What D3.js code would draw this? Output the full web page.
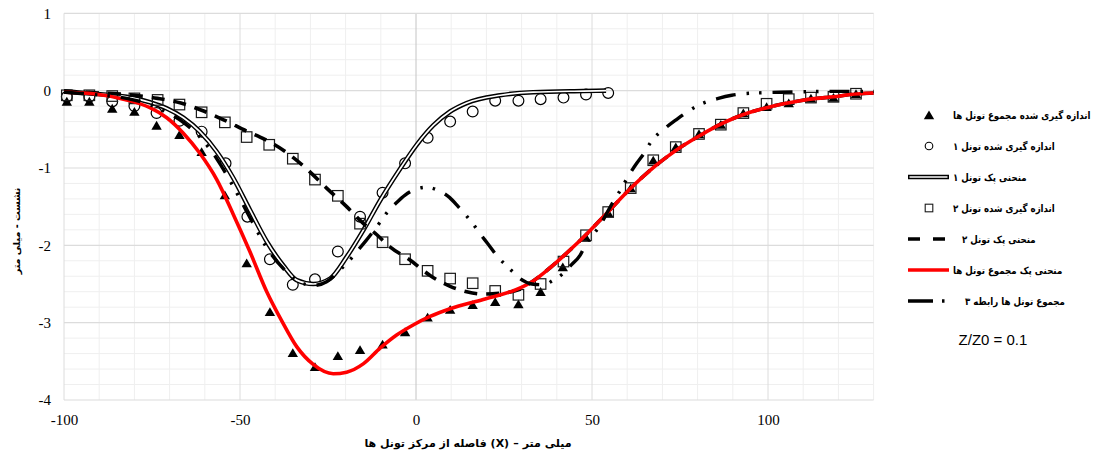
<!DOCTYPE html>
<html>
<head>
<meta charset="utf-8">
<script src="https://cdn.jsdelivr.net/npm/d3@7"></script>
<style>
  html, body { margin: 0; padding: 0; background: #ffffff; }
  svg { display: block; }
</style>
</head>
<body>
<svg id="chart" width="1094" height="460"></svg>
<script>
// Surface settlement above twin tunnels: x = distance from tunnels' centre (mm), y = settlement (mm)

// measured, both tunnels together (filled triangles)
const measuredTotal = [
  [-99.2,-0.14],[-92.8,-0.14],[-86.3,-0.23],[-80.0,-0.27],[-73.7,-0.45],[-67.2,-0.57],
  [-60.9,-0.79],[-54.3,-1.35],[-48.1,-2.23],[-41.5,-2.86],[-35.0,-3.39],[-28.7,-3.57],
  [-22.2,-3.43],[-15.9,-3.35],[-9.5,-3.28],[-3.1,-3.12],[3.3,-2.93],[9.7,-2.83],
  [16.1,-2.77],[22.5,-2.73],[29.1,-2.76],[35.4,-2.60],[41.7,-2.28],[48.3,-1.90],
  [54.6,-1.58],[61.0,-1.26],[67.4,-0.90],[73.8,-0.73],[80.4,-0.56],[86.6,-0.44],
  [93.0,-0.29],[99.6,-0.21],[105.9,-0.16],[112.2,-0.10],[118.6,-0.09],[125.0,-0.04]
];

// measured, tunnel 1 (open circles)
const measuredTunnel1 = [
  [-99.2,-0.08],[-92.8,-0.08],[-86.3,-0.14],[-80.0,-0.20],[-73.7,-0.29],[-67.2,-0.39],
  [-60.9,-0.53],[-54.1,-0.94],[-47.9,-1.63],[-41.5,-2.18],[-35.0,-2.51],[-28.7,-2.44],
  [-22.2,-2.08],[-15.9,-1.63],[-9.5,-1.32],[-3.1,-0.94],[3.3,-0.61],[9.7,-0.40],
  [16.1,-0.27],[22.5,-0.13],[29.1,-0.13],[35.4,-0.11],[41.9,-0.09],[48.3,-0.05],[54.6,-0.03]
];

// Peck curve, tunnel 1 (double line)
const peckTunnel1 = [
  [-100,-0.01],[-91.7,-0.04],[-82.2,-0.08],[-75.6,-0.15],[-70.8,-0.23],[-66.1,-0.35],
  [-61.4,-0.53],[-56.6,-0.79],[-51.9,-1.13],[-47.2,-1.54],[-42.4,-1.95],[-37.7,-2.26],
  [-33.9,-2.45],[-29.2,-2.50],[-24.4,-2.43],[-19.7,-2.15],[-14.9,-1.80],[-10.2,-1.42],
  [-4.5,-1.01],[0.2,-0.70],[4.9,-0.45],[9.7,-0.27],[14.4,-0.16],[23.9,-0.06],
  [33.3,-0.02],[47.5,-0.005],[54.0,0.0]
];

// measured, tunnel 2 (open squares)
const measuredTunnel2 = [
  [-99.2,-0.06],[-92.8,-0.06],[-86.3,-0.07],[-80.0,-0.10],[-73.4,-0.12],[-67.2,-0.18],
  [-60.9,-0.28],[-54.3,-0.41],[-48.1,-0.60],[-41.7,-0.70],[-35.0,-0.88],[-28.7,-1.15],
  [-22.2,-1.36],[-15.9,-1.72],[-9.5,-1.96],[-3.1,-2.18],[3.3,-2.33],[9.7,-2.43],
  [16.1,-2.49],[22.5,-2.59],[29.1,-2.64],[35.4,-2.50],[41.9,-2.21],[48.3,-1.87],
  [54.6,-1.57],[61.0,-1.26],[67.4,-0.90],[73.8,-0.73],[80.4,-0.56],[86.6,-0.44],
  [93.0,-0.29],[99.6,-0.17],[105.9,-0.11],[112.2,-0.09],[118.6,-0.08],[125.0,-0.04]
];

// Peck curve, tunnel 2 (dashed)
const peckTunnel2 = [
  [-100,-0.01],[-90,-0.03],[-80,-0.06],[-73.4,-0.10],[-66.8,-0.16],[-61.1,-0.25],
  [-54.5,-0.38],[-47.8,-0.53],[-44.3,-0.60],[-37.7,-0.77],[-31.1,-1.01],[-25.4,-1.26],
  [-19.7,-1.50],[-14.9,-1.72],[-11.2,-1.86],[-7.4,-2.02],[-1.7,-2.19],[4.0,-2.39],
  [9.7,-2.53],[14.4,-2.60],[19.1,-2.63],[24.0,-2.62],[29.5,-2.57],[33.3,-2.46],
  [38.1,-2.29],[42.8,-2.10],[47.5,-1.90],[52.2,-1.68],[57.0,-1.45],[61.7,-1.23],
  [66.5,-1.03],[71.2,-0.86],[75.9,-0.71],[80.7,-0.58],[85.4,-0.46],[90.1,-0.36],
  [94.9,-0.28],[99.6,-0.22],[104.4,-0.17],[109.1,-0.13],[113.8,-0.10],[118.6,-0.08],
  [123.3,-0.05],[130,-0.03]
];

// Peck curve, both tunnels together (red)
const peckTotal = [
  [-100,-0.02],[-91.7,-0.04],[-82.2,-0.12],[-75.6,-0.22],[-70.8,-0.35],[-66.1,-0.55],
  [-61.4,-0.81],[-56.6,-1.15],[-51.9,-1.60],[-47.2,-2.08],[-42.4,-2.60],[-38.1,-2.98],
  [-33.9,-3.31],[-29.2,-3.54],[-23.5,-3.66],[-19.7,-3.64],[-14.9,-3.53],[-10.2,-3.33],
  [-5.5,-3.16],[-0.8,-3.03],[4.0,-2.92],[9.7,-2.82],[19.1,-2.70],[28.6,-2.57],
  [33.3,-2.46],[38.1,-2.29],[42.8,-2.10],[47.5,-1.90],[52.2,-1.68],[57.0,-1.45],
  [61.7,-1.23],[66.5,-1.03],[71.2,-0.86],[75.9,-0.71],[80.7,-0.58],[85.4,-0.46],
  [90.1,-0.36],[94.9,-0.28],[99.6,-0.22],[104.4,-0.17],[109.1,-0.13],[113.8,-0.10],
  [118.6,-0.08],[123.3,-0.05],[130,-0.03]
];

// both tunnels, relation 3 (long dash – dot – dot)
const relation3Total = [
  [-100,-0.02],[-91.7,-0.05],[-82.2,-0.10],[-75.6,-0.18],[-70.8,-0.28],[-66.1,-0.41],
  [-61.4,-0.60],[-56.6,-0.88],[-51.9,-1.24],[-47.2,-1.64],[-42.4,-2.03],[-37.7,-2.30],
  [-33.9,-2.45],[-29.2,-2.52],[-25.4,-2.47],[-21.6,-2.32],[-18.8,-2.19],[-16.4,-2.06],
  [-14.2,-1.94],[-10.2,-1.70],[-8.3,-1.58],[-5.8,-1.46],[-3.1,-1.35],[0.2,-1.27],
  [3.0,-1.25],[6.3,-1.29],[9.5,-1.38],[12.0,-1.50],[16.3,-1.73],[18.2,-1.85],
  [20.4,-1.98],[22.9,-2.13],[27.2,-2.33],[29.5,-2.43],[32.9,-2.50],[36.2,-2.51],
  [39.0,-2.45],[41.9,-2.36],[44.2,-2.25],[46.6,-2.13],[48.2,-1.99],[52.3,-1.74],
  [55.6,-1.47],[57.5,-1.33],[60.8,-1.07],[62.7,-0.94],[64.8,-0.81],[66.5,-0.68],
  [71.2,-0.47],[74.1,-0.37],[76.9,-0.28],[80.2,-0.19],[85.9,-0.10],[89.7,-0.06],
  [93.0,-0.04],[96.8,-0.03],[103.4,-0.02],[110,-0.015],[118,-0.01],[130,-0.01]
];

const xTicks = [-100, -50, 0, 50, 100];
const yTicks = [1, 0, -1, -2, -3, -4];

const seriesNames = [
  "اندازه گیری شده مجموع تونل ها",
  "اندازه گیری شده تونل ۱",
  "منحنی پک تونل ۱",
  "اندازه گیری شده تونل ۲",
  "\u00A0\u00A0\u00A0منحنی پک تونل ۲",
  "منحنی پک مجموع تونل ها",
  "\u00A0\u00A0\u00A0\u00A0مجموع تونل ها رابطه ۳"
];
// x-axis title pieces, laid out left to right
const xTitleParts = ["فاصله از مرکز تونل ها", "(X)", "–", "میلی متر"];
const yTitle = "نشست - میلی متر";
const noteText = "Z/Z0 = 0.1";

// ---------------------------------------------------------------------------
const svg = d3.select("#chart");
const plot = { left: 64, right: 873.6, top: 13.3, bottom: 400 };

const x = d3.scaleLinear().domain([-100, 130]).range([plot.left, plot.right]);
const y = d3.scaleLinear().domain([-4, 1]).range([plot.bottom, plot.top]);

const faFont = "'DejaVu Sans', 'Noto Sans', sans-serif";
const numFont = "'Liberation Serif', 'Times New Roman', serif";
const faSqueeze = 0.85;   // DejaVu's Arabic runs wide; narrow legend text a little

// gridlines
const grid = svg.append("g");
const minorX = d3.range(-90, 131, 10).filter(v => v % 50 !== 0);
const minorY = d3.range(-4, 1.001, 0.2).map(v => +v.toFixed(1)).filter(v => Math.abs(v - Math.round(v)) > 1e-6);

grid.selectAll(".mx").data(minorX).join("line")
  .attr("x1", d => x(d)).attr("x2", d => x(d))
  .attr("y1", plot.top).attr("y2", plot.bottom)
  .attr("stroke", "#efefef").attr("stroke-width", 1);
grid.selectAll(".my").data(minorY).join("line")
  .attr("x1", plot.left).attr("x2", plot.right)
  .attr("y1", d => y(d)).attr("y2", d => y(d))
  .attr("stroke", "#efefef").attr("stroke-width", 1);
grid.selectAll(".Mx").data(xTicks).join("line")
  .attr("x1", d => x(d)).attr("x2", d => x(d))
  .attr("y1", plot.top).attr("y2", plot.bottom)
  .attr("stroke", d => d === 0 ? "#c4c4c4" : "#dcdcdc").attr("stroke-width", 1);
grid.selectAll(".My").data(yTicks).join("line")
  .attr("x1", plot.left).attr("x2", plot.right)
  .attr("y1", d => y(d)).attr("y2", d => y(d))
  .attr("stroke", "#dcdcdc").attr("stroke-width", 1.2);

// axes (labels only)
const yAxis = d3.axisLeft(y).tickValues(yTicks).tickSize(0).tickPadding(13).tickFormat(d3.format("d"));
const xAxis = d3.axisBottom(x).tickValues(xTicks).tickSize(0).tickPadding(14).tickFormat(d3.format("d"));

const gy = svg.append("g").attr("transform", `translate(${plot.left},0)`).call(yAxis);
const gx = svg.append("g").attr("transform", `translate(0,${plot.bottom})`).call(xAxis);
[gx, gy].forEach(g => {
  g.select(".domain").remove();
  g.selectAll("text").attr("font-family", numFont).attr("font-size", 15).attr("fill", "#000");
});
gy.selectAll("text").text(d => d < 0 ? "-" + Math.abs(d) : d);
gx.selectAll("text").text(d => d < 0 ? "-" + Math.abs(d) : d);

// x-axis title: pieces packed left to right around the centre
const xTitleG = svg.append("g");
const xTitleCentre = 468, xTitleBase = 447, xTitleGap = 4;
const pieces = xTitleParts.map(t => xTitleG.append("text")
  .attr("y", xTitleBase)
  .attr("font-family", faFont).attr("font-weight", "bold").attr("font-size", 11)
  .attr("text-anchor", "start")
  .text(t));
const widths = pieces.map(p => p.node().getComputedTextLength());
const totalW = d3.sum(widths) + xTitleGap * (pieces.length - 1);
let cursor = xTitleCentre - totalW / 2;
pieces.forEach((p, i) => { p.attr("x", cursor); cursor += widths[i] + xTitleGap; });

// y-axis title
svg.append("text")
  .attr("transform", "translate(20,231) rotate(-90)")
  .attr("text-anchor", "middle")
  .attr("font-family", faFont).attr("font-weight", "bold").attr("font-size", 9.6)
  .text(yTitle);

// mark helpers
const line = d3.line().x(d => x(d[0])).y(d => y(d[1])).curve(d3.curveMonotoneX);
const triPath = "M0,-4.6L5.2,4.2L-5.2,4.2Z";
const sqSize = 10.5;

const marks = svg.append("g");

function drawTriangles(g, data) {
  g.selectAll(null).data(data).join("path")
    .attr("d", triPath)
    .attr("transform", d => `translate(${x(d[0])},${y(d[1])})`)
    .attr("fill", "#000");
}
function drawCircles(g, data) {
  g.selectAll(null).data(data).join("circle")
    .attr("cx", d => x(d[0])).attr("cy", d => y(d[1])).attr("r", 5.4)
    .attr("fill", "none").attr("stroke", "#000").attr("stroke-width", 1.2);
}
function drawSquares(g, data) {
  g.selectAll(null).data(data).join("rect")
    .attr("x", d => x(d[0]) - sqSize / 2).attr("y", d => y(d[1]) - sqSize / 2)
    .attr("width", sqSize).attr("height", sqSize)
    .attr("fill", "none").attr("stroke", "#1a1a1a").attr("stroke-width", 1.2);
}
const styles = {
  doubleOuter: { stroke: "#000", width: 4.6 },
  doubleInner: { stroke: "#fff", width: 1.7 },
  dashed: { stroke: "#000", width: 3.6, dash: "13,9" },
  red: { stroke: "#ff0000", width: 3.6 },
  dashDot: { stroke: "#000", width: 3.4, dash: "20,11,2.5,10,2.5,11" }
};
function drawPath(g, d, st) {
  return g.append("path").attr("d", d)
    .attr("fill", "none").attr("stroke", st.stroke).attr("stroke-width", st.width)
    .attr("stroke-dasharray", st.dash || null)
    .attr("stroke-linejoin", "round");
}

// series, in plotting order
drawTriangles(marks.append("g"), measuredTotal);
drawCircles(marks.append("g"), measuredTunnel1);
drawPath(marks, line(peckTunnel1), styles.doubleOuter);
drawPath(marks, line(peckTunnel1), styles.doubleInner);
drawSquares(marks.append("g"), measuredTunnel2);
drawPath(marks, line(peckTunnel2), styles.dashed);
drawPath(marks, line(peckTotal), styles.red);
drawPath(marks, line(relation3Total), styles.dashDot);

// legend
const legend = svg.append("g");
const lgTop = 115, lgStep = 31, symL = 908, symR = 949, symC = 929, textX = 953;
const legendKinds = ["triangle", "circle", "double", "square", "dashed", "red", "dashDot"];

legendKinds.forEach((kind, i) => {
  const cy = lgTop + i * lgStep;
  const g = legend.append("g");
  const seg = `M${symL},${cy}L${symR},${cy}`;
  if (kind === "triangle") {
    g.append("path").attr("d", triPath).attr("transform", `translate(${symC},${cy})`).attr("fill", "#000");
  } else if (kind === "circle") {
    g.append("circle").attr("cx", symC).attr("cy", cy).attr("r", 3.8)
      .attr("fill", "none").attr("stroke", "#000").attr("stroke-width", 1.1);
  } else if (kind === "square") {
    g.append("rect").attr("x", symC - 3.8).attr("y", cy - 3.8).attr("width", 7.6).attr("height", 7.6)
      .attr("fill", "none").attr("stroke", "#1a1a1a").attr("stroke-width", 1.1);
  } else if (kind === "double") {
    drawPath(g, seg, styles.doubleOuter);
    drawPath(g, `M${symL + 1.5},${cy}L${symR - 1.5},${cy}`, styles.doubleInner);
  } else if (kind === "dashed") {
    drawPath(g, seg, { stroke: "#000", width: 3.6, dash: "12,13" });
  } else if (kind === "red") {
    drawPath(g, seg, styles.red);
  } else if (kind === "dashDot") {
    drawPath(g, seg, { stroke: "#000", width: 3.4, dash: "25,9,2.5,20" });
  }
  g.append("text")
    .attr("transform", `translate(${textX},${cy}) scale(${faSqueeze},1)`)
    .attr("dy", "0.35em")
    .attr("font-family", faFont).attr("font-weight", "bold").attr("font-size", 10.2)
    .text(seriesNames[i]);
});

legend.append("text")
  .attr("x", 993).attr("y", 340).attr("dy", "0.35em")
  .attr("text-anchor", "middle")
  .attr("font-family", "'Liberation Sans', Arial, sans-serif").attr("font-size", 15)
  .text(noteText);
</script>
</body>
</html>
